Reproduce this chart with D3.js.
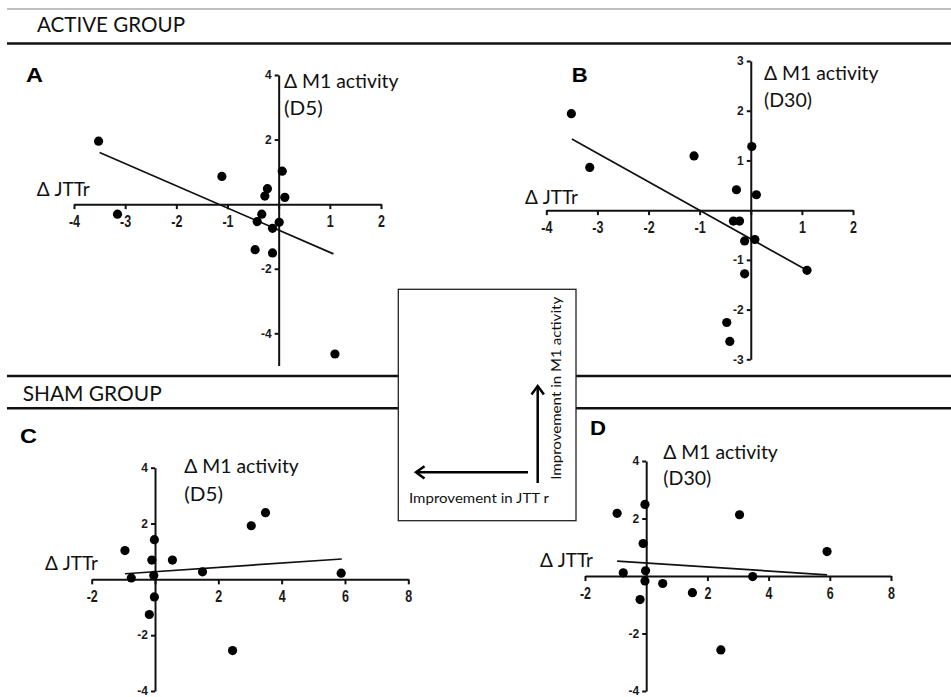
<!DOCTYPE html>
<html><head><meta charset="utf-8">
<script src="https://cdn.jsdelivr.net/npm/d3@7"></script>
<style>body{margin:0;background:#fff}</style>
</head><body><svg id="c" width="951" height="697"></svg>
<script>
// ---------- data ----------
const activeD5_jttr = [-3.52,-3.15,-1.11,0.07,-0.22,-0.27,0.12,-0.33,-0.42,0.01,-0.12,-0.46,-0.12,1.10];
const activeD5_m1   = [1.95,-0.31,0.86,1.02,0.48,0.25,0.21,-0.31,-0.54,-0.56,-0.75,-1.41,-1.51,-4.64];
const activeD30_jttr = [-3.51,-3.15,-1.11,0.02,-0.28,0.11,-0.34,-0.22,-0.12,0.08,-0.12,1.10,-0.47,-0.41];
const activeD30_m1   = [1.94,0.86,1.09,1.28,0.41,0.31,-0.22,-0.22,-0.62,-0.59,-1.28,-1.21,-2.26,-2.64];
const shamD5_jttr = [3.49,3.04,-0.02,-0.95,-0.10,0.55,1.50,5.88,-0.75,-0.04,-0.02,-0.18,2.45];
const shamD5_m1   = [2.39,1.92,1.42,1.03,0.69,0.69,0.27,0.22,0.05,0.14,-0.63,-1.26,-2.55];
const shamD30_jttr = [-0.95,-0.04,3.05,-0.10,5.91,-0.75,-0.02,-0.04,0.54,3.48,1.51,-0.20,2.44];
const shamD30_m1   = [2.18,2.49,2.13,1.13,0.85,0.11,0.18,-0.17,-0.26,-0.02,-0.58,-0.82,-2.57];

// regression lines (endpoints)
const fitActiveD5_x = [-3.50, 1.07],  fitActiveD5_y = [1.60, -1.54];
const fitActiveD30_x = [-3.50, 1.10], fitActiveD30_y = [1.43, -1.21];
const fitShamD5_x = [-0.95, 5.90],    fitShamD5_y = [0.20, 0.73];
const fitShamD30_x = [-0.95, 5.91],   fitShamD30_y = [0.52, 0.04];

// ticks
const xTicksActive = [-4,-3,-2,-1,0,1,2];
const yTicksActiveD5 = [4,2,-2,-4];
const yTicksActiveD30 = [3,2,1,-1,-2,-3];
const xTicksSham = [-2,0,2,4,6,8];
const yTicksSham = [4,2,-2,-4];

// text
const groupTitles = ["ACTIVE GROUP", "SHAM GROUP"];
const panelLetters = ["A","B","C","D"];
const yTitleLine1 = "\u0394 M1 activity";
const yTitleD5 = "(D5)", yTitleD30 = "(D30)";
const xTitle = "\u0394 JTTr";
const legendX = "Improvement in JTT r";
const legendY = "Improvement in M1 activity";

// ---------- drawing ----------
const svg = d3.select("#c");
const FONT = "Lato, 'Open Sans', sans-serif";
const BOLD = "'Liberation Sans', Arial, sans-serif";

function text(g, t, x, y, size, width, opts = {}) {
  const el = g.append("text").attr("x", x).attr("y", y).text(t)
    .style("font-family", opts.family || FONT)
    .style("font-size", size + "px")
    .style("font-weight", opts.weight || "normal")
    .attr("fill", opts.fill || "#111");
  if (width) el.attr("textLength", width).attr("lengthAdjust", "spacingAndGlyphs");
  if (opts.anchor) el.attr("text-anchor", opts.anchor);
  if (opts.transform) el.attr("transform", opts.transform);
  return el;
}

// header rules
svg.append("line").attr("x1",7).attr("x2",951).attr("y1",9).attr("y2",9)
  .attr("stroke","#aaa").attr("stroke-width",1.5);
svg.append("line").attr("x1",7).attr("x2",951).attr("y1",43.5).attr("y2",43.5)
  .attr("stroke","#111").attr("stroke-width",2.6);
[376, 408.3].forEach(y => svg.append("line").attr("x1",7).attr("x2",951).attr("y1",y).attr("y2",y)
  .attr("stroke","#111").attr("stroke-width",2.6));
text(svg, groupTitles[0], 37, 32.3, 21, 148);
text(svg, groupTitles[1], 22.7, 400.7, 21, 139);

// legend box
const lg = svg.append("g");
lg.append("rect").attr("x",398.3).attr("y",289.3).attr("width",177.7).attr("height",231.4)
  .attr("fill","#fff").attr("stroke","#222").attr("stroke-width",1.3);
lg.append("line").attr("x1",537.7).attr("x2",537.7).attr("y1",483).attr("y2",387)
  .attr("stroke","#000").attr("stroke-width",2.5);
lg.append("path").attr("d","M531.5,394.5 L537.7,386 L543.9,394.5").attr("fill","none")
  .attr("stroke","#000").attr("stroke-width",2.5);
lg.append("line").attr("x1",528).attr("x2",417).attr("y1",472.3).attr("y2",472.3)
  .attr("stroke","#000").attr("stroke-width",2.5);
lg.append("path").attr("d","M424.5,466.2 L416,472.3 L424.5,478.4").attr("fill","none")
  .attr("stroke","#000").attr("stroke-width",2.5);
text(lg, legendX, 409, 502.7, 14, 140);
text(lg, legendY, 0, 0, 14, 183, {anchor:"middle", transform:"translate(560.5,388.3) rotate(-90)"});

function panel(cfg) {
  const g = svg.append("g");
  const x = d3.scaleLinear().domain(cfg.xDomain).range(cfg.xRange);
  const y = d3.scaleLinear().domain(cfg.yDomain).range(cfg.yRange);
  const fmt = d => d === 0 ? "" : String(d);

  const xa = g.append("g").attr("transform", `translate(0,${y(0)})`)
    .call(d3.axisBottom(x).tickValues(cfg.xTicks).tickFormat(fmt)
      .tickSize(5).tickSizeOuter(0).tickPadding(6));
  const ya = g.append("g").attr("transform", `translate(${x(0)},0)`)
    .call(d3.axisLeft(y).tickValues(cfg.yTicks).tickFormat(fmt)
      .tickSize(4).tickSizeOuter(0).tickPadding(3));
  [xa, ya].forEach(a => {
    a.selectAll("path.domain").attr("stroke","#111").attr("stroke-width",2);
    a.selectAll(".tick line").attr("stroke","#111").attr("stroke-width",2);
  });
  // tick labels: bold, slightly stretched vertically as in the original export
  xa.selectAll(".tick text").style("font-family",BOLD).style("font-weight","bold")
    .style("font-size","12.5px").attr("fill","#1a1a1a")
    .attr("y", 0).attr("dy","0.71em").attr("transform","translate(0,11) scale(1,1.3)");
  ya.selectAll(".tick text").style("font-family",BOLD).style("font-weight","bold")
    .style("font-size","12px").attr("fill","#1a1a1a")
    .attr("dy","0.28em").attr("transform","scale(1,1.12)");

  // regression line
  g.append("line")
    .attr("x1", x(cfg.fitX[0])).attr("y1", y(cfg.fitY[0]))
    .attr("x2", x(cfg.fitX[1])).attr("y2", y(cfg.fitY[1]))
    .attr("stroke","#111").attr("stroke-width",1.7);

  // points
  g.selectAll("circle.pt").data(d3.range(cfg.xs.length)).join("circle")
    .attr("class","pt").attr("cx", i => x(cfg.xs[i])).attr("cy", i => y(cfg.ys[i]))
    .attr("r", 4.6).attr("fill","#000");

  // labels
  text(g, cfg.letter, cfg.letterPos[0], cfg.letterPos[1], 20, cfg.letterW, {family:BOLD, weight:"bold", fill:"#000"});
  text(g, yTitleLine1, cfg.yTitlePos[0], cfg.yTitlePos[1], 18.5, 114.5);
  text(g, cfg.yTitle2, cfg.yTitlePos[0], cfg.yTitlePos[2], 18.5, cfg.yTitle2W);
  text(g, xTitle, cfg.xTitlePos[0], cfg.xTitlePos[1], 18.5, 53);
}

panel({ letter: panelLetters[0], letterPos: [26, 81.7], letterW: 17,
  xDomain: [-4,2], xRange: [74,381], yDomain: [-5,4], yRange: [365.6,75],
  xTicks: xTicksActive, yTicks: yTicksActiveD5,
  xs: activeD5_jttr, ys: activeD5_m1, fitX: fitActiveD5_x, fitY: fitActiveD5_y,
  yTitlePos: [284, 88, 115], yTitle2: yTitleD5, yTitle2W: 38.7, xTitlePos: [36.7, 196] });

panel({ letter: panelLetters[1], letterPos: [571.7, 81.7], letterW: 16,
  xDomain: [-4,2], xRange: [546.3,853], yDomain: [-3,3], yRange: [359.3,61],
  xTicks: xTicksActive, yTicks: yTicksActiveD30,
  xs: activeD30_jttr, ys: activeD30_m1, fitX: fitActiveD30_x, fitY: fitActiveD30_y,
  yTitlePos: [764, 80, 106.7], yTitle2: yTitleD30, yTitle2W: 48, xTitlePos: [525, 204] });

panel({ letter: panelLetters[2], letterPos: [20, 442.7], letterW: 17,
  xDomain: [-2,8], xRange: [91.7,408.3], yDomain: [-4,4], yRange: [691,467.7],
  xTicks: xTicksSham, yTicks: yTicksSham,
  xs: shamD5_jttr, ys: shamD5_m1, fitX: fitShamD5_x, fitY: fitShamD5_y,
  yTitlePos: [184.3, 473.3, 501], yTitle2: yTitleD5, yTitle2W: 38.7, xTitlePos: [45, 570] });

panel({ letter: panelLetters[3], letterPos: [590, 435], letterW: 16,
  xDomain: [-2,8], xRange: [585,891], yDomain: [-4,4], yRange: [691,461],
  xTicks: xTicksSham, yTicks: yTicksSham,
  xs: shamD30_jttr, ys: shamD30_m1, fitX: fitShamD30_x, fitY: fitShamD30_y,
  yTitlePos: [663.3, 459.3, 485], yTitle2: yTitleD30, yTitle2W: 48, xTitlePos: [540, 566.7] });
</script>
</body></html>
